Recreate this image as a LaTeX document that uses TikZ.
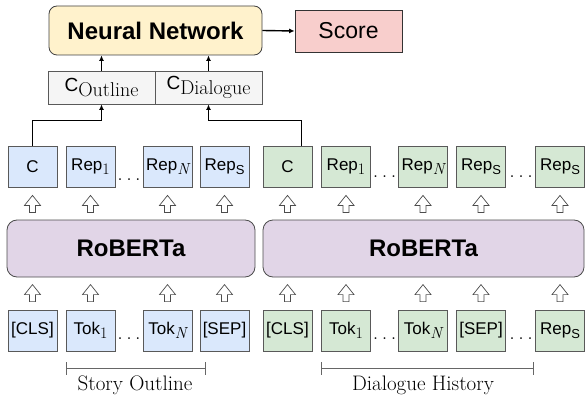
\documentclass[tikz,border=0pt]{standalone}
\usepackage{fontspec}
\newfontfamily\sff{Liberation Sans}
\usetikzlibrary{arrows.meta,calc}
\definecolor{blueF}{HTML}{DAE8FC}
\definecolor{greenF}{HTML}{D5E8D4}
\definecolor{purpleF}{HTML}{E1D5E7}
\definecolor{yellowF}{HTML}{FFF2CC}
\definecolor{redF}{HTML}{F8CECC}
\definecolor{grayF}{HTML}{F5F5F5}
\newcommand{\ssub}[1]{\raisebox{-3.5pt}{\fontsize{13}{15}\selectfont #1}}
\newcommand{\msub}[1]{\raisebox{-4pt}{\rmfamily\fontsize{16}{18}\selectfont #1}}
\newcommand{\rsub}[1]{\raisebox{-5pt}{\rmfamily\fontsize{20}{22}\selectfont #1}}
\newcommand{\hdots}{{\rmfamily\fontsize{22}{24}\selectfont .\kern3.5pt.\kern3.5pt.}}
\begin{document}
\begin{tikzpicture}[x=1pt,y=-1pt,
  box/.style={draw=black!65, line width=0.8pt, minimum width=49pt, minimum height=41pt, inner sep=0pt, font=\sff\fontsize{17}{20}\selectfont},
  bluebox/.style={box, fill=blueF},
  greenbox/.style={box, fill=greenF},
  robox/.style={draw=black!70, line width=0.8pt, fill=purpleF, rounded corners=10pt, minimum height=57pt, inner sep=0pt, font=\sff\bfseries\fontsize{24}{28}\selectfont},
  cbox/.style={draw=black!65, line width=0.8pt, fill=grayF, minimum width=107pt, minimum height=33pt, inner sep=0pt},
  arr/.style={line width=1.4pt, -{Latex[length=5.5pt,width=5pt]}},
  dots/.style={anchor=base, inner sep=0pt},
  brk/.style={draw=black!60, line width=0.8pt},
  lab/.style={anchor=base, inner sep=0pt, font=\rmfamily\fontsize{21}{24}\selectfont},
  hollowup/.pic={\draw[fill=white, draw=black!70, line width=0.7pt, line join=miter] (0,0) -- (8,10) -- (3,10) -- (3,17) -- (-3,17) -- (-3,10) -- (-8,10) -- cycle;}
]
\useasboundingbox (0,0) rectangle (585,398);

% top
\node[draw=black!75, line width=0.8pt, fill=yellowF, rounded corners=8pt, minimum width=213pt, minimum height=49pt, inner sep=0pt, font=\sff\bfseries\fontsize{24}{28}\selectfont] (nn) at (155.5,30.5) {Neural Network};
\node[draw=black!80, line width=0.8pt, fill=redF, minimum width=107pt, minimum height=42pt, inner sep=0pt, font=\sff\fontsize{23}{26}\selectfont] (score) at (348.5,31) {Score};
\node[cbox] (co) at (101.5,87.5) {{\sff\fontsize{19}{22}\selectfont C}\rsub{Outline}};
\node[cbox] (cd) at (208.5,87.5) {{\sff\fontsize{19}{22}\selectfont C}\rsub{Dialogue}};

% top row of representations
\node[bluebox] (cB) at (32.5,166.5) {C};
\node[bluebox] (rep1B) at (90.5,166.5) {Rep\msub{1}};
\node[bluebox] (repNB) at (167.5,166.5) {Rep\msub{\itshape N}};
\node[bluebox] (repSB) at (224.5,166.5) {Rep\ssub{S}};
\node[greenbox] (cG) at (287.5,166.5) {C};
\node[greenbox] (rep1G) at (346,166.5) {Rep\msub{1}};
\node[greenbox] (repNG) at (423,166.5) {Rep\msub{\itshape N}};
\node[greenbox] (repSG) at (481,166.5) {Rep\ssub{S}};
\node[greenbox] (repSG2) at (560,166.5) {Rep\ssub{S}};
\node[dots] (d1) at (129,180) {\hdots};
\node[dots] (d2) at (384.5,177) {\hdots};
\node[dots] (d3) at (521,177) {\hdots};

% RoBERTa
\node[robox, minimum width=248pt] (robL) at (131,248.5) {RoBERTa};
\node[robox, minimum width=321pt] (robR) at (423.5,248.5) {RoBERTa};

% bottom row of tokens
\node[bluebox] (clsB) at (32.5,330.5) {[CLS]};
\node[bluebox] (tok1B) at (90.5,330.5) {Tok\msub{1}};
\node[bluebox] (tokNB) at (167.5,330.5) {Tok\msub{\itshape N}};
\node[bluebox] (sepB) at (224.5,330.5) {[SEP]};
\node[greenbox] (clsG) at (287.5,330.5) {[CLS]};
\node[greenbox] (tok1G) at (346,330.5) {Tok\msub{1}};
\node[greenbox] (tokNG) at (423,330.5) {Tok\msub{\itshape N}};
\node[greenbox] (sepG) at (481,330.5) {[SEP]};
\node[greenbox] (repSGb) at (560,330.5) {Rep\ssub{S}};
\node[dots] (d4) at (129,339) {\hdots};
\node[dots] (d5) at (384.5,339) {\hdots};
\node[dots] (d6) at (521,339) {\hdots};

% hollow arrows
\foreach \n in {cB,rep1B,repNB,repSB,cG,rep1G,repNG,repSG,repSG2}
  \pic at ($(\n.south)+(0,8)$) {hollowup};
\foreach \n in {clsB,tok1B,tokNB,sepB,clsG,tok1G,tokNG,sepG,repSGb}
  \pic at ($(\n.north)+(0,-25)$) {hollowup};

% connectors
\draw[arr] (cB.north) -- ++(0,-25) -| (co.south);
\draw[arr] ($(cG.north)+(14,0)$) -- ++(0,-25) -| (cd.south);
\draw[arr] (co.north) -- (co.north |- nn.south);
\draw[arr] (cd.north) -- (cd.north |- nn.south);
\draw[arr] (nn.east) -- (score.west);

% brackets
\coordinate (s1) at (66,368);
\coordinate (s2) at (205,368);
\coordinate (h1) at (321,368);
\coordinate (h2) at (533,368);
\draw[brk] (s1) -- (s2) (s1)+(0,-6) -- +(0,7) (s2)+(0,-6) -- +(0,7);
\draw[brk] (h1) -- (h2) (h1)+(0,-6) -- +(0,7) (h2)+(0,-6) -- +(0,7);
\node[lab] (sl) at (135,390) {Story Outline};
\node[lab] (dl) at (423,390) {Dialogue History};
\end{tikzpicture}
\end{document}
